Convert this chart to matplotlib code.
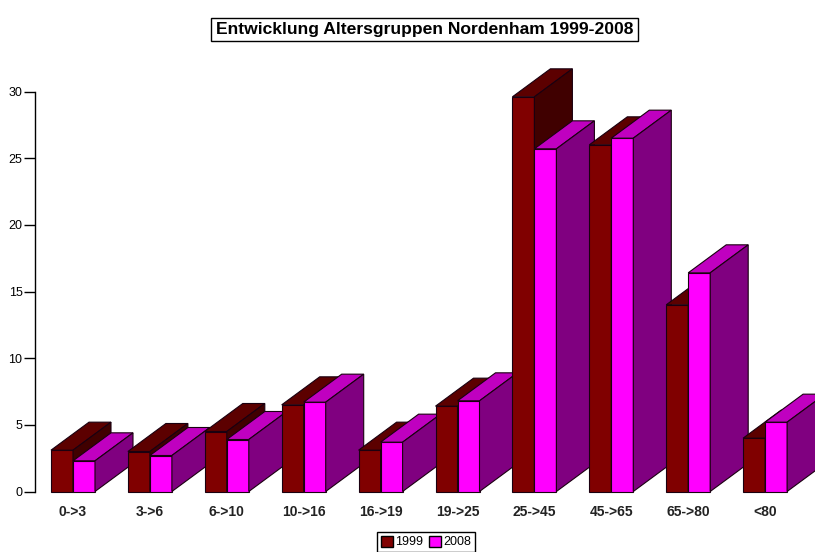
import matplotlib
matplotlib.use("Agg")
import matplotlib.pyplot as plt
from matplotlib.patches import Patch, Polygon

plt.rcParams['font.family'] = ['Liberation Sans', 'DejaVu Sans']

gruppen = ["0->3", "3->6", "6->10", "10->16", "16->19", "19->25", "25->45", "45->65", "65->80", "<80"]
werte_1999 = [3.1, 3.0, 4.5, 6.5, 3.1, 6.4, 29.6, 26.0, 14.0, 4.0]
werte_2008 = [2.3, 2.7, 3.9, 6.7, 3.7, 6.8, 25.7, 26.5, 16.4, 5.2]
jahre = ["1999", "2008"]
y_ticks = [0, 5, 10, 15, 20, 25, 30]

# Farben: vorne, oben, seite
farben_1999 = ("#800000", "#5c0000", "#400000")
farben_2008 = ("#ff00ff", "#c000c0", "#800080")

B, H = 815, 552
abstand = 76.9
breite = 22.0 / abstand
tiefe_x = 38 / abstand
tiefe_y = 28 / 13.33


# Balken mit Oberseite und Seitenflaeche zeichnen
def balken_3d(ax, x, wert, farben):
    vorne, oben, seite = farben
    flaechen = [
        ([(x, 0), (x + breite, 0), (x + breite, wert), (x, wert)], vorne),
        ([(x, wert), (x + breite, wert), (x + breite + tiefe_x, wert + tiefe_y), (x + tiefe_x, wert + tiefe_y)], oben),
        ([(x + breite, 0), (x + breite + tiefe_x, tiefe_y), (x + breite + tiefe_x, wert + tiefe_y), (x + breite, wert)], seite),
    ]
    for punkte, farbe in flaechen:
        ax.add_patch(Polygon(punkte, closed=True, facecolor=farbe, edgecolor="#1a0010", linewidth=0.8, clip_on=False))


fig = plt.figure(figsize=(B / 100, H / 100), dpi=100)
ax = fig.add_axes([35 / B, 1 - 491.5 / H, (B - 35) / B, 400 / H])
ax.set_xlim((35 - 73) / abstand, (B - 73) / abstand)
ax.set_ylim(0, 30)

for i in range(len(gruppen)):
    balken_3d(ax, i - breite, werte_1999[i], farben_1999)
    balken_3d(ax, i, werte_2008[i], farben_2008)

for seite in ["top", "right", "bottom"]:
    ax.spines[seite].set_visible(False)
ax.spines["left"].set_linewidth(1.0)
ax.set_yticks(y_ticks)
ax.tick_params(axis="y", length=8, width=1.0, labelsize=9, pad=1)
ax.set_xticks(range(len(gruppen)))
ax.set_xticklabels(gruppen, fontsize=10, fontweight="bold", color="#222222")
ax.tick_params(axis="x", length=0, pad=10)

fig.text(424.5 / B, 1 - 29.5 / H, "Entwicklung Altersgruppen Nordenham 1999-2008", ha="center", va="center",
         fontsize=12.6, fontweight="bold",
         bbox=dict(boxstyle="square,pad=0.25", facecolor="white", edgecolor="black", linewidth=1.0))

griffe = [Patch(facecolor=farben_1999[0], edgecolor="black", label=jahre[0]),
          Patch(facecolor=farben_2008[0], edgecolor="black", label=jahre[1])]
fig.legend(handles=griffe, ncol=2, loc="center", bbox_to_anchor=(426 / B, 1 - 542 / H), fontsize=9,
           fancybox=False, framealpha=1, edgecolor="black", handlelength=1, handleheight=1,
           handletextpad=0.2, columnspacing=0.4, borderpad=0.25, borderaxespad=0)

fig.savefig("out.png", dpi=100)
